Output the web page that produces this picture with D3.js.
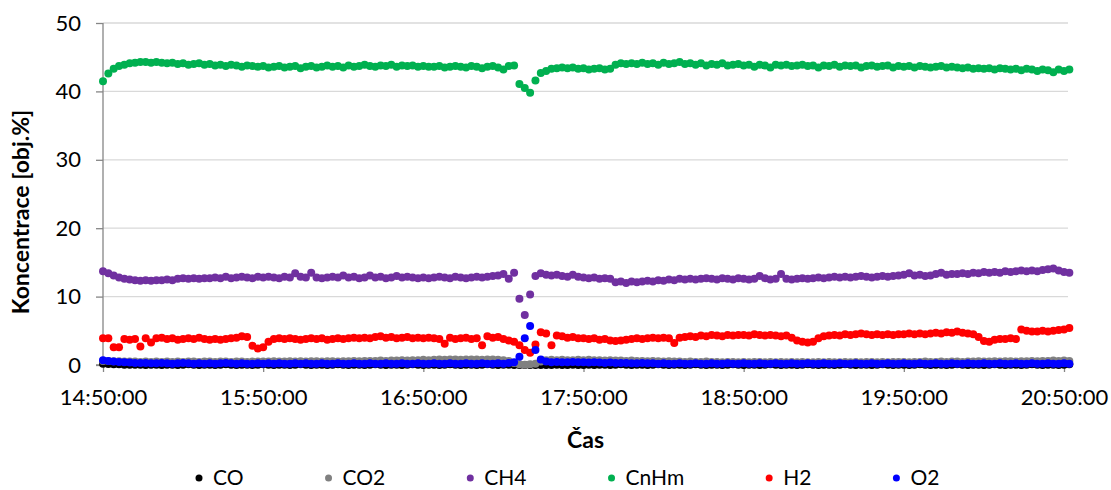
<!DOCTYPE html>
<html>
<head>
<meta charset="utf-8">
<script src="https://cdn.jsdelivr.net/npm/d3@7"></script>
<style>
  body { margin: 0; background: #fff; }
  text { font-family: Lato, "Open Sans", sans-serif; fill: #000; }
</style>
</head>
<body>
<div id="chart"></div>
<script>
// Samples every 2 minutes starting at 14:50:00
const startTime = "14:50:00";
const stepMinutes = 2;

const tickLabels = ["14:50:00", "15:50:00", "16:50:00", "17:50:00", "18:50:00", "19:50:00", "20:50:00"];
const yTicks = [0, 10, 20, 30, 40, 50];

const seriesNames = ["CO", "CO2", "CH4", "CnHm", "H2", "O2"];
const seriesColors = ["#000000", "#808080", "#7030a0", "#00b050", "#ff0000", "#0000ff"];

const CO = [
  0.2, 0.15, 0.1, 0.1, 0.05, 0.05, 0.05, 0.05, 0, 0.05,
  0.05, 0, 0.05, 0.05, 0, 0.05, 0.1, 0.05, 0, 0.05,
  0.05, 0, 0.05, 0.1, 0.05, 0, 0.05, 0.05, 0, 0.05,
  0.1, 0.05, 0, 0.05, 0.05, 0, 0.05, 0.1, 0.05, 0,
  0.05, 0.05, 0, 0.05, 0.1, 0.05, 0, 0.05, 0.05, 0,
  0.05, 0.1, 0.05, 0, 0.05, 0.05, 0, 0.05, 0.1, 0.05,
  0, 0.05, 0.05, 0, 0.05, 0.1, 0.05, 0, 0.05, 0.05,
  0, 0.05, 0.1, 0.05, 0, 0.05, 0.05, 0, 0, 0,
  0, 0, 0, 0, 0, 0.05, 0, 0, 0.05, 0,
  0, 0.05, 0, 0.05, 0.05, 0, 0.05, 0.1, 0.05, 0,
  0.05, 0.05, 0, 0.05, 0.1, 0.05, 0, 0.05, 0.05, 0,
  0.05, 0.1, 0.05, 0, 0.05, 0.05, 0, 0.05, 0.1, 0.05,
  0, 0.05, 0.05, 0, 0.05, 0.1, 0.05, 0, 0.05, 0.05,
  0, 0.05, 0.1, 0.05, 0, 0.05, 0.05, 0, 0.05, 0.1,
  0.05, 0, 0.05, 0.05, 0, 0.05, 0.1, 0.05, 0, 0.05,
  0.05, 0, 0.05, 0.1, 0.05, 0, 0.05, 0.05, 0, 0.05,
  0.1, 0.05, 0, 0.05, 0.05, 0, 0.05, 0.1, 0.05, 0,
  0.05, 0.05, 0, 0.05, 0.1, 0.05, 0, 0.05, 0.05, 0,
  0.05, 0.1
];

const CO2 = [
  0.6, 0.6, 0.55, 0.55, 0.5, 0.5, 0.5, 0.45, 0.5, 0.45,
  0.5, 0.45, 0.5, 0.45, 0.5, 0.45, 0.5, 0.5, 0.45, 0.5,
  0.5, 0.45, 0.5, 0.5, 0.45, 0.5, 0.5, 0.45, 0.5, 0.5,
  0.5, 0.5, 0.55, 0.5, 0.5, 0.55, 0.5, 0.55, 0.5, 0.55,
  0.55, 0.5, 0.55, 0.55, 0.5, 0.55, 0.55, 0.6, 0.55, 0.6,
  0.6, 0.6, 0.65, 0.6, 0.65, 0.65, 0.7, 0.65, 0.7, 0.7,
  0.75, 0.7, 0.75, 0.8, 0.75, 0.8, 0.8, 0.75, 0.8, 0.8,
  0.8, 0.75, 0.8, 0.8, 0.75, 0.7, 0.6, 0.3, 0.1, 0.05,
  0.1, 0.2, 0.5, 0.7, 0.75, 0.7, 0.75, 0.7, 0.7, 0.75,
  0.7, 0.75, 0.7, 0.7, 0.65, 0.7, 0.65, 0.65, 0.6, 0.65,
  0.6, 0.6, 0.55, 0.6, 0.55, 0.5, 0.55, 0.5, 0.5, 0.45,
  0.5, 0.45, 0.45, 0.5, 0.45, 0.45, 0.4, 0.45, 0.45, 0.4,
  0.45, 0.4, 0.45, 0.45, 0.4, 0.45, 0.4, 0.45, 0.4, 0.45,
  0.4, 0.45, 0.4, 0.4, 0.45, 0.4, 0.45, 0.4, 0.4, 0.45,
  0.4, 0.45, 0.4, 0.45, 0.45, 0.4, 0.45, 0.4, 0.45, 0.45,
  0.45, 0.4, 0.45, 0.45, 0.5, 0.45, 0.45, 0.5, 0.45, 0.5,
  0.5, 0.45, 0.5, 0.5, 0.55, 0.5, 0.5, 0.55, 0.5, 0.55,
  0.55, 0.5, 0.55, 0.55, 0.6, 0.55, 0.6, 0.6, 0.65, 0.6,
  0.65, 0.6
];

const CH4 = [
  13.7, 13.4, 13.1, 12.8, 12.6, 12.5, 12.4, 12.3, 12.4, 12.3,
  12.4, 12.4, 12.5, 12.4, 12.6, 12.7, 12.6, 12.7, 12.6, 12.7,
  12.7, 12.8, 12.7, 12.9, 12.7, 12.8, 12.9, 12.8, 12.7, 12.9,
  12.8, 12.9, 12.8, 12.7, 12.9, 12.8, 13.4, 12.9, 12.8, 13.5,
  12.8, 12.7, 12.8, 12.9, 12.8, 13.1, 12.8, 12.9, 12.7, 12.8,
  13.1, 12.8, 12.9, 12.7, 12.8, 13.0, 12.8, 12.9, 12.8, 12.7,
  12.8, 12.7, 12.8, 12.9, 12.8, 12.7, 12.9, 12.8, 12.7, 12.8,
  12.9, 12.8, 12.9, 13.0, 13.1, 13.3, 12.6, 13.5, 9.7, 7.3,
  10.3, 13.0, 13.4, 13.2, 13.1, 13.2, 13.0, 12.9, 13.2, 12.9,
  12.8, 12.7, 12.8, 12.6, 12.7, 12.6, 12.1, 12.2, 12.0, 12.2,
  12.1, 12.2, 12.3, 12.2, 12.4, 12.3, 12.5, 12.4, 12.6, 12.5,
  12.6, 12.5, 12.6, 12.7, 12.6, 12.5, 12.7, 12.6, 12.5, 12.7,
  12.6, 12.5, 12.6, 13.0, 12.7, 12.5, 12.6, 13.3, 12.6, 12.5,
  12.6, 12.7, 12.6, 12.7, 12.8, 12.7, 12.8, 12.9, 12.8, 12.9,
  12.8, 12.9, 13.0, 12.9, 12.8, 12.9, 13.0, 12.9, 13.0, 13.1,
  13.2, 13.4, 13.1, 13.2, 13.0, 13.1, 13.3, 13.5, 13.2, 13.3,
  13.3, 13.4, 13.3, 13.5, 13.4, 13.6, 13.5, 13.6, 13.5, 13.7,
  13.6, 13.7, 13.8, 13.7, 13.8, 13.7, 13.9, 14.0, 14.1, 13.8,
  13.6, 13.5
];

const CnHm = [
  41.5, 42.6, 43.3, 43.7, 43.9, 44.1, 44.2, 44.3, 44.3, 44.2,
  44.3, 44.2, 44.1, 44.2, 44.0, 44.1, 43.9, 44.0, 44.1, 43.9,
  44.0, 43.8, 43.9, 43.7, 43.9, 43.8, 43.6, 43.8, 43.7, 43.6,
  43.7, 43.5, 43.6, 43.7, 43.5, 43.6, 43.7, 43.4, 43.6, 43.7,
  43.5, 43.6, 43.8, 43.6, 43.7, 43.5, 43.8, 43.6, 43.7, 43.9,
  43.7, 43.6, 43.8, 43.7, 43.9, 43.6, 43.8, 43.7, 43.8, 43.6,
  43.7, 43.6, 43.6, 43.7, 43.5, 43.6, 43.7, 43.6, 43.5, 43.7,
  43.6, 43.4, 43.6, 43.7, 43.5, 43.2, 43.7, 43.8, 41.1, 40.5,
  39.8, 41.6, 42.7, 43.0, 43.3, 43.4, 43.5, 43.4, 43.5, 43.3,
  43.4, 43.2, 43.3, 43.4, 43.2, 43.3, 43.9, 44.1, 44.0, 44.1,
  44.0, 44.2, 44.0, 44.1, 43.9, 44.2, 44.0, 44.1, 44.3, 44.0,
  44.1, 43.9, 44.1, 43.8, 44.0, 43.9, 44.1, 43.8, 43.9, 44.0,
  43.8, 43.9, 43.6, 43.9, 43.8, 43.5, 43.9, 43.8, 43.9, 43.7,
  43.8, 43.9, 43.7, 43.8, 43.5, 43.8, 43.7, 43.9, 43.6, 43.8,
  43.7, 43.8, 43.5, 43.7, 43.8, 43.6, 43.7, 43.8, 43.5, 43.7,
  43.6, 43.7, 43.5, 43.7, 43.6, 43.5, 43.6, 43.7, 43.5, 43.6,
  43.5, 43.4, 43.5, 43.3, 43.4, 43.3, 43.4, 43.2, 43.4, 43.3,
  43.2, 43.3, 43.1, 43.3, 43.2, 43.0, 43.2, 43.1, 42.8, 43.2,
  43.0, 43.2
];

const H2 = [
  3.9, 3.9, 2.6, 2.6, 3.8, 3.7, 3.8, 2.7, 3.9, 3.3,
  3.9, 4.0, 3.8, 3.9, 3.7, 3.8, 3.9, 3.8, 4.0, 3.8,
  3.7, 3.8, 3.7, 3.8, 3.9, 4.0, 4.2, 4.1, 2.8, 2.4,
  2.6, 3.4, 3.8, 3.9, 3.8, 3.9, 3.8, 3.7, 3.8, 3.9,
  3.8, 3.9, 3.7, 3.8, 3.9, 3.8, 3.9, 4.0, 3.9, 4.0,
  3.9, 4.1, 4.2, 4.0, 4.1, 3.9, 4.0, 4.1, 3.9, 4.0,
  3.9, 4.0, 3.9, 3.8, 3.1, 4.0, 3.8, 3.9, 4.0, 3.8,
  3.9, 2.9, 4.2, 4.0, 4.1, 3.8, 3.6, 3.4, 2.9, 2.2,
  1.8, 3.0, 4.8, 4.6, 2.9, 4.3, 4.2, 4.0, 4.1, 3.9,
  3.9, 3.8, 3.9, 3.7, 3.8, 3.6, 3.5, 3.6, 3.7, 3.8,
  3.9, 3.8, 3.9, 4.0, 3.9, 4.0, 3.9, 3.2, 4.0, 4.1,
  4.2, 4.1, 4.3, 4.2, 4.4, 4.3, 4.2, 4.4, 4.3, 4.4,
  4.4, 4.3, 4.5, 4.4, 4.3, 4.4, 4.3, 4.2, 4.3, 4.0,
  3.6, 3.4, 3.3, 3.4, 3.9, 4.2, 4.3, 4.4, 4.3, 4.5,
  4.4, 4.5, 4.6, 4.5, 4.4, 4.5, 4.4, 4.5, 4.4, 4.5,
  4.5, 4.6, 4.5, 4.6, 4.5, 4.6, 4.7, 4.6, 4.8, 4.7,
  4.9, 4.7, 4.6, 4.5, 4.1, 3.5, 3.4, 3.7, 3.8, 3.8,
  3.9, 3.8, 5.2, 5.0, 4.9, 4.9, 5.0, 4.9, 5.0, 5.1,
  5.2, 5.4
];

const O2 = [
  0.7, 0.6, 0.5, 0.45, 0.4, 0.35, 0.3, 0.3, 0.3, 0.25,
  0.25, 0.3, 0.25, 0.2, 0.25, 0.3, 0.25, 0.2, 0.25, 0.2,
  0.25, 0.2, 0.25, 0.3, 0.25, 0.2, 0.25, 0.2, 0.2, 0.25,
  0.2, 0.25, 0.2, 0.25, 0.2, 0.2, 0.25, 0.2, 0.25, 0.2,
  0.2, 0.25, 0.2, 0.2, 0.25, 0.2, 0.2, 0.25, 0.2, 0.2,
  0.25, 0.2, 0.2, 0.25, 0.2, 0.2, 0.25, 0.2, 0.2, 0.25,
  0.2, 0.2, 0.25, 0.2, 0.2, 0.25, 0.2, 0.2, 0.25, 0.2,
  0.2, 0.25, 0.2, 0.2, 0.25, 0.2, 0.3, 0.4, 1.2, 3.9,
  5.7, 2.2, 0.8, 0.5, 0.4, 0.45, 0.4, 0.4, 0.45, 0.4,
  0.4, 0.35, 0.4, 0.35, 0.3, 0.35, 0.3, 0.3, 0.3, 0.25,
  0.25, 0.3, 0.25, 0.25, 0.2, 0.25, 0.2, 0.2, 0.25, 0.2,
  0.2, 0.25, 0.2, 0.2, 0.25, 0.2, 0.2, 0.25, 0.2, 0.2,
  0.25, 0.2, 0.2, 0.25, 0.2, 0.2, 0.25, 0.2, 0.2, 0.25,
  0.2, 0.2, 0.25, 0.2, 0.2, 0.25, 0.2, 0.2, 0.25, 0.2,
  0.2, 0.25, 0.2, 0.2, 0.25, 0.2, 0.2, 0.25, 0.2, 0.2,
  0.25, 0.2, 0.2, 0.25, 0.2, 0.2, 0.25, 0.2, 0.2, 0.25,
  0.2, 0.2, 0.25, 0.2, 0.2, 0.25, 0.2, 0.2, 0.25, 0.2,
  0.2, 0.25, 0.2, 0.2, 0.25, 0.2, 0.2, 0.25, 0.2, 0.2,
  0.25, 0.2
];

const seriesValues = [CO, CO2, CH4, CnHm, H2, O2];

// Define the plot area inside the 1111x490 picture
const W = 1111, H = 490;
const plot = { left: 103, right: 1068, top: 23, bottom: 365 };

const parseTime = d3.timeParse("%H:%M:%S");
const t0 = parseTime(startTime);
const tickTimes = tickLabels.map(parseTime);

const x = d3
  .scaleTime()
  .domain([tickTimes[0], tickTimes[tickTimes.length - 1]])
  .range([plot.left, 1064]);
const y = d3.scaleLinear().domain([0, 50]).range([plot.bottom, plot.top]);

const svg = d3
  .select("#chart")
  .append("svg")
  .attr("width", W)
  .attr("height", H);

// Horizontal gridlines
svg
  .append("g")
  .selectAll("line")
  .data(yTicks.filter((d) => d > 0))
  .enter()
  .append("line")
  .attr("x1", plot.left)
  .attr("x2", plot.right)
  .attr("y1", (d) => y(d))
  .attr("y2", (d) => y(d))
  .attr("stroke", "#d9d9d9")
  .attr("stroke-width", 1.3);

// Y axis
const yAxis = svg
  .append("g")
  .attr("transform", `translate(${plot.left},0)`)
  .call(d3.axisLeft(y).tickValues(yTicks).tickSize(7).tickPadding(15));

// X axis
const xAxis = svg
  .append("g")
  .attr("transform", `translate(0,${plot.bottom})`)
  .call(
    d3
      .axisBottom(x)
      .tickValues(tickTimes)
      .tickFormat((d, i) => tickLabels[i])
      .tickSize(7)
  );

[yAxis, xAxis].forEach((ax) => {
  ax.select(".domain").remove();
  ax.selectAll("line").attr("stroke", "#868686").attr("stroke-width", 1.3);
  ax.selectAll("text").attr("font-size", 22).attr("fill", "#000");
});
xAxis.selectAll("text").attr("y", 40).attr("dy", 0);

// Axis lines
svg
  .append("line")
  .attr("x1", plot.left)
  .attr("x2", plot.left)
  .attr("y1", plot.top)
  .attr("y2", plot.bottom)
  .attr("stroke", "#868686")
  .attr("stroke-width", 1.3);
svg
  .append("line")
  .attr("x1", plot.left - 7)
  .attr("x2", plot.right)
  .attr("y1", plot.bottom)
  .attr("y2", plot.bottom)
  .attr("stroke", "#868686")
  .attr("stroke-width", 1.3);

// Points for each series (drawn in legend order, O2 on top)
seriesNames.forEach((name, s) => {
  const pts = seriesValues[s].map((v, i) => ({
    t: d3.timeMinute.offset(t0, i * stepMinutes),
    v: v,
  }));
  svg
    .append("g")
    .selectAll("circle")
    .data(pts)
    .enter()
    .append("circle")
    .attr("cx", (d) => x(d.t))
    .attr("cy", (d) => y(d.v))
    .attr("r", 4)
    .attr("fill", seriesColors[s]);
});

// Axis titles
svg
  .append("text")
  .attr("transform", `translate(29,212) rotate(-90)`)
  .attr("text-anchor", "middle")
  .attr("font-size", 23)
  .attr("font-weight", "bold")
  .text("Koncentrace [obj.%]");

svg
  .append("text")
  .attr("x", (plot.left + plot.right) / 2)
  .attr("y", 448)
  .attr("text-anchor", "middle")
  .attr("font-size", 23)
  .attr("font-weight", "bold")
  .text("Čas");

// Legend
const legend = svg.append("g");
let lx = 199;
seriesNames.forEach((name, s) => {
  legend
    .append("circle")
    .attr("cx", lx)
    .attr("cy", 478)
    .attr("r", 3.5)
    .attr("fill", seriesColors[s]);
  const label = legend
    .append("text")
    .attr("x", lx + 14)
    .attr("y", 485)
    .attr("font-size", 21)
    .text(name);
  lx += 14 + label.node().getComputedTextLength() + 85;
});
</script>
</body>
</html>
